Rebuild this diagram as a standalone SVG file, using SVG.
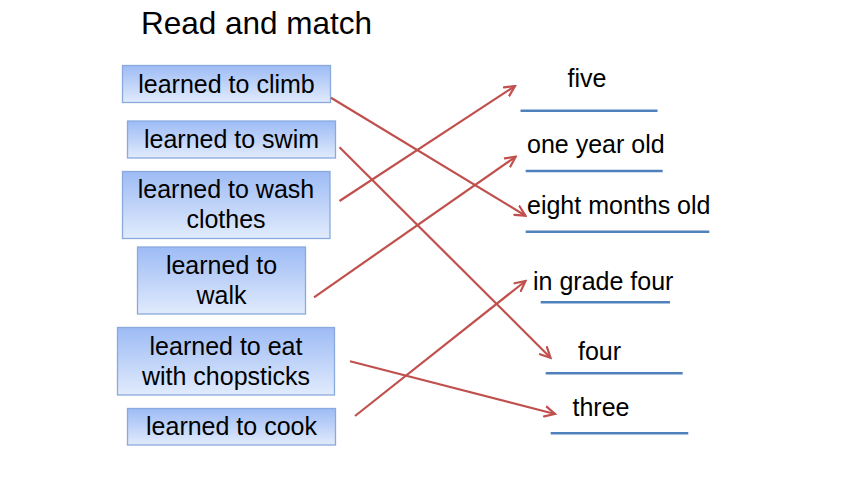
<svg xmlns="http://www.w3.org/2000/svg" width="860" height="484" viewBox="0 0 860 484">
<defs>
<linearGradient id="g" x1="0" y1="0" x2="0" y2="1">
<stop offset="0" stop-color="#9dbbf5"/>
<stop offset="1" stop-color="#e1ebfc"/>
</linearGradient>
<marker id="ah" markerUnits="userSpaceOnUse" viewBox="-11 -7 13 14" refX="0" refY="0" markerWidth="13" markerHeight="14" orient="auto">
<path d="M-10,-5 L0,0 L-10,5" fill="none" stroke="#c0504d" stroke-width="2.2" stroke-linecap="round" stroke-linejoin="miter"/>
</marker>
<style>
.box{fill:url(#g);stroke:#8aaade;stroke-width:1.3}
.t{font-family:"Liberation Sans",Arial,sans-serif;font-size:25px;fill:#000}
.c{text-anchor:middle}
.ul{stroke:#4f81bd;stroke-width:2.6}
.ar{stroke:#c0504d;stroke-width:2.2;fill:none;marker-end:url(#ah)}
</style>
</defs>
<rect width="860" height="484" fill="#fff"/>
<text x="141" y="34" font-family="Liberation Sans,Arial,sans-serif" font-size="31.5">Read and match</text>

<g id="n-climb"><rect class="box" x="122.5" y="65.5" width="208" height="37"/><text class="t c" x="226.5" y="93.3">learned to climb</text></g>
<g id="n-swim"><rect class="box" x="127.5" y="121" width="208" height="37"/><text class="t c" x="231.5" y="148.3">learned to swim</text></g>
<g id="n-wash"><rect class="box" x="122.5" y="171.5" width="207.5" height="67"/><text class="t c" x="226" y="198.3">learned to wash</text><text class="t c" x="226" y="228.3">clothes</text></g>
<g id="n-walk"><rect class="box" x="137.5" y="247" width="168" height="67"/><text class="t c" x="221.5" y="274.3">learned to</text><text class="t c" x="221.5" y="304">walk</text></g>
<g id="n-chop"><rect class="box" x="117.5" y="327.5" width="217" height="67.5"/><text class="t c" x="226" y="355">learned to eat</text><text class="t c" x="226" y="385">with chopsticks</text></g>
<g id="n-cook"><rect class="box" x="127.5" y="408.5" width="208" height="36.5"/><text class="t c" x="231.5" y="435">learned to cook</text></g>

<g id="a-five"><text class="t" x="567.5" y="87.3">five</text><line class="ul" x1="520.5" y1="110.7" x2="657.5" y2="110.7"/></g>
<g id="a-one"><text class="t" x="527" y="153.3">one year old</text><line class="ul" x1="525.7" y1="171" x2="662.7" y2="171"/></g>
<g id="a-eight"><text class="t" x="527" y="214">eight months old</text><line class="ul" x1="525.7" y1="231.7" x2="709.3" y2="231.7"/></g>
<g id="a-grade"><text class="t" x="533" y="290">in grade four</text><line class="ul" x1="540.7" y1="302.3" x2="670" y2="302.3"/></g>
<g id="a-four"><text class="t" x="578" y="360">four</text><line class="ul" x1="545.7" y1="373.3" x2="682.7" y2="373.3"/></g>
<g id="a-three"><text class="t" x="572.5" y="415.7">three</text><line class="ul" x1="550.7" y1="433.3" x2="688.3" y2="433.3"/></g>

<g id="connectors">
<line class="ar" x1="331" y1="97.7" x2="525.5" y2="215.7"/>
<line class="ar" x1="339.5" y1="147.3" x2="550.5" y2="357.7"/>
<line class="ar" x1="339.5" y1="201" x2="515" y2="86"/>
<line class="ar" x1="314" y1="297.3" x2="515.7" y2="156.7"/>
<line class="ar" x1="350" y1="361.3" x2="555" y2="414"/>
<line class="ar" x1="355" y1="416" x2="525.5" y2="281"/>
</g>
</svg>
